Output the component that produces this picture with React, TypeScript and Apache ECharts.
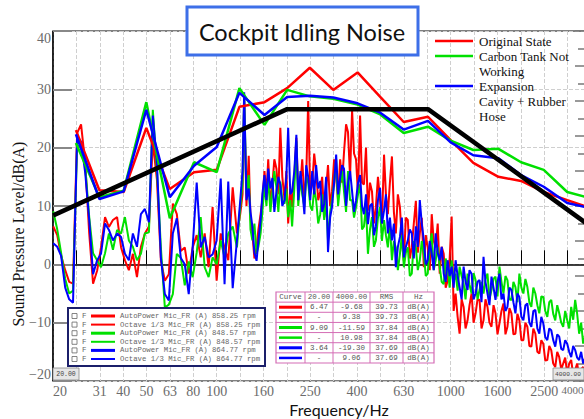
import React, { useEffect, useRef } from "react";
import * as echarts from "echarts";

// Narrowband (AutoPower) spectra: frequency grid (Hz) and levels dB(A)
const nbFreqs = [
  20, 20.8, 21.6, 22.5, 23.4, 24.3, 25.3, 26.3, 27.4, 28.5,
  29.6, 30.8, 32, 33.3, 34.6, 36, 37.5, 39, 40.5, 42.1,
  43.8, 45.6, 47.4, 49.3, 51.3, 53.3, 55.5, 57.7, 60, 62.4,
  64.9, 67.5, 70.2, 73, 75.9, 78.9, 82.1, 85.4, 88.8, 92.3,
  96, 99.9, 104, 108, 112, 117, 122, 126, 131, 137,
  142, 148, 154, 160, 166, 173, 180, 187, 195, 202,
  210, 219, 228, 237, 246, 256, 266, 277, 288, 299,
  311, 324, 337, 350, 364, 379, 394, 410, 426, 443,
  461, 479, 499, 519, 539, 561, 583, 607, 631, 656,
  682, 710, 738, 768, 798, 830, 863, 898, 934, 971,
  1010, 1050, 1092, 1136, 1181, 1229, 1278, 1329, 1382, 1437,
  1495, 1555, 1617, 1682, 1749, 1819, 1892, 1967, 2046, 2128,
  2213, 2302, 2394, 2489, 2589, 2692, 2800, 2912, 3028, 3150,
  3276, 3407, 3543, 3685, 3832, 3985,
];
const nbRed = [
  6.5, 5, 1.5, -1, -3, -3.3, 22.5, 24, 17.3, 5.3,
  -3.3, -1.1, 2.9, 8.1, 6.4, 7.6, 8.1, 2.9, 0.7, -1,
  1.8, -2.2, 3, 5.3, 6.5, 21, 14.5, 0.7, -2.8, -1.7,
  10.4, 8.6, 2.3, 2.9, -1.6, 2.9, 5, 1.2, 5.3, -0.5,
  9.8, -2.8, 5.3, 2.9, 0.7, 13.2, 5.3, 8.6, 28.4, 18.6,
  5.3, 2.9, 8.6, 16, 18, 13.7, 16.4, 23.4, 11, 7,
  9.8, 21.7, 13.7, 11.2, 28, 13.7, 16, 12.5, 8.1, 17,
  12.5, 14.8, 18, 19.2, 22.7, 26.4, 18, 25.5, 13.7, 9.2,
  12.5, 9.8, 11, 18.8, 8.6, 18.5, 5.3, 9.8, 0.6, 7.6,
  2.9, 10.9, 5.3, -0.5, 2.9, 8.6, 2.9, -1.6, 1.8, -2.8,
  8.2, -5, -11.9, -7.3, -9.6, -5, -8.4, -6.1, -9.6, -7.3,
  -10.7, -8.4, -10.1, -6.7, -10.7, -8.4, -11.9, -9.6, -13, -10.7,
  -14.1, -11.9, -15.3, -13.6, -16.4, -14.7, -17.6, -15.9, -17, -18.7,
  -16.4, -18.1, -19.3, -17.6, -19, -9.7,
];
const nbGreen = [
  9.1, 6, 2, -2.5, -5, -4.5, 20.5, 20, 16.8, 8.1,
  1.9, 0.7, -0.5, 1.9, 5.3, 2.5, 5.9, 5.3, 8.1, 4.1,
  3, 0.7, 1.8, 5.3, 5.5, 26.5, 16.2, 2.9, -7.4, -6.9,
  -5.1, 1.8, 1.1, -3.6, 0.5, -2.2, 2, 8.1, -0.5, -2.2,
  1.2, 0, 4.1, 1.2, 5.3, 6.5, 2.9, 9.8, 29, 15.3,
  4.1, 1.8, 5.3, 13.7, 15.3, 12.5, 13.1, 14.2, 10.4, 8.1,
  6.5, 21.1, 14.8, 9.8, 14, 9.2, 11, 8.6, 7.6, 4.1,
  11, 18, 13.7, 12.5, 16, 11, 9.8, 13.7, 6.5, 1.8,
  8.1, 4.1, 9.8, 7.6, 2.9, 0.7, 2.9, 1.8, -0.5, 2.9,
  -1.6, 2.9, 0.7, 1.8, -1.6, 5.3, 0.7, -0.5, -3.4, -0.5,
  0.7, -1.6, -0.4, -3.3, -1.6, -5, -2.7, -4.4, -5, -1.6,
  -4.4, -2.1, -0.4, -5, -2.7, -6.1, -3.9, -1.6, -5, -3.9,
  -7.3, -5, -8.4, -5.6, -9, -6.1, -9.6, -8.4, -10.7, -9.6,
  -7.3, -6.1, -11.9, -13.6, -12.4, -11.6,
];
const nbBlue = [
  3.6, 3, 1.5, -4, -6, -6.6, 22, 21, 15.7, 7.6,
  -1.7, 0.7, 1.8, 7, 5.9, 4.1, 5.3, 4.7, 1.8, 0.7,
  5.3, 3, 8.6, 9.5, 7.2, 25.5, 17.3, 1.2, -5.1, -6.2,
  5.3, 7.9, 1.1, 0, -5.1, 2.9, 14, 2.9, 4.7, 1.2,
  1.7, 4.1, 14.7, -3.4, 14.2, -4.1, 4.1, 10.9, 29.5, 13,
  6.5, 0.6, 7.6, 15.3, 16.4, 14.8, 12.5, 13.7, 11, 23.4,
  12.5, 22.2, 16, 8.6, 15, 16, 17, 14.3, 10.4, 2.1,
  9.8, 18.8, 14.8, 16.4, 13.7, 12.5, 11, 15.3, 8.6, 6.9,
  10.4, 6.5, 13.1, 9.2, 5.3, 4.1, -0.5, 4.7, 1.2, 4.1,
  5.3, 6.5, 11, 4.1, 0.7, 1.8, 5.3, 0.7, -1.6, 0.7,
  -0.4, 0.7, -3.9, -0.4, -4.4, -1.6, -5, -2.7, 1.3, -5,
  -2.1, -6.1, -1.6, -5, -7.3, -4.4, -8.4, -5.6, -9.6, -6.7,
  -10.7, -7.8, -11.9, -10.1, -13, -11.3, -14.1, -12.4, -14.7, -13.6,
  -15.9, -14.7, -16.4, -17, -16.4, -19.3,
];

// extra narrowband lines between the grid above (denser noise from 129 Hz up)
const nbFreqsMid = [
  128.9, 134, 139.4, 144.9, 150.7, 156.7, 163.1, 169.6, 176.3, 183.4,
  190.7, 198.4, 206.3, 214.6, 223.1, 232, 241.3, 251, 261, 271.5,
  282.3, 293.6, 305.3, 317.6, 330.2, 343.5, 357.2, 371.5, 386.3, 401.8,
  417.9, 434.6, 452, 470, 488.9, 508.4, 528.8, 549.9, 571.9, 594.7,
  618.5, 643.3, 669, 695.8, 723.7, 752.6, 782.7, 814, 846.5, 880.4,
  915.6, 952.2, 990.3, 1030, 1071, 1114, 1158, 1204, 1253, 1303,
  1355, 1409, 1465, 1525, 1586, 1649, 1715, 1784, 1855, 1929,
  2006, 2087, 2170, 2257, 2348, 2441, 2538, 2640, 2745, 2855,
  2970, 3088, 3212, 3341, 3474, 3613, 3758, 3908,
];
const nbRedMid = [
  12, 10, 8, 1, 6, 11, 12, 10, 18, 12,
  15, 16, 13, 15, 12, 18, 15, 12, 19, 11,
  15, 13, 10, 18, 11, 14, 24, 15, 19, 12,
  14, 20, 14, 7, 15, 7, 12, 14, 9, 12,
  4, 8, 1, 7, 2, 8, 5, -1, 4, 7,
  3, -4, 1, -8, -9, -6, -11, -7, -10, -6,
  -11, -6, -10, -7, -12, -8, -12, -7.5, -12, -8.5,
  -13, -10, -14, -11, -15, -13, -16.5, -14, -17, -15,
  -18, -16, -17, -19, -17, -18, -19.5, -18,
];
const nbGreenMid = [
  14, 12, 6, 7, 3, 9, 10, 9, 16, 9,
  11, 13, 11, 13, 10, 12, 15, 10, 13, 7,
  12, 11, 9, 14, 10, 16, 9, 11, 8, 12,
  6, 10, 6, 3, 8, 4, 5, 7, 4, -1,
  5, 2, -2, 4, -1, 4, -2, 3, -1, 3,
  -3, 1, -4, -3, -4.5, -2, -6, -3.5, -1.5, -6,
  -3, -2.5, -6, -2.5, -5.5, -3, -2, -6, -3, -6.5,
  -4, -2.5, -6.5, -4, -7, -5.5, -8, -6.5, -8.5, -7,
  -10, -8, -11, -9.5, -8.5, -10, -12, -11,
];
const nbBlueMid = [
  16, 11, 9, 2, 4, 12, 11, 13, 9, 15,
  10, 15, 12, 16, 11, 13, 17, 11, 12, 13,
  9, 15, 8, 14, 12, 17, 10, 16, 9, 14,
  10, 12, 10, 5, 11, 7, 12, 8, 7, 3,
  8, 3, 6, 1, 3, 7, 0, 4, -1, 2,
  3, -3, -2, -4, -2, -6, -3, -1, -6, -3,
  -6.5, -3, -7, -4, -3, -6, -8, -4, -6.5, -5,
  -9, -7, -10, -8, -11, -9, -12.5, -11, -13, -12,
  -14.5, -13, -15, -14, -16, -15, -16, -18,
];

// 1/3 octave spectra
const octBands = [25, 31.5, 40, 50, 63, 80, 100, 125, 160, 200, 250, 315, 400, 500, 630, 800, 1000, 1250, 1600, 2000, 2500, 3150, 4000];
const octRed = [23.0, 12.7, 12.4, 23.4, 12.9, 15.8, 16.2, 27.0, 27.8, 30.2, 33.7, 29.9, 32.9, 28.7, 24.4, 25.3, 21.3, 17.4, 15.0, 14.3, 12.4, 11.0, 9.6];
const octGreen = [20.8, 11.5, 12.6, 27.8, 7.9, 17.5, 15.8, 30.2, 23.9, 29.9, 28.8, 28.4, 27.4, 25.7, 22.5, 23.6, 21.2, 19.6, 19.8, 17.5, 16.2, 12.4, 11.3];
const octBlue = [22.3, 11.2, 12.5, 26.5, 11.5, 16.9, 20.1, 29.4, 25.6, 28.7, 28.9, 28.6, 27.6, 26.0, 23.1, 24.6, 20.9, 18.7, 18.2, 15.3, 13.3, 10.5, 9.6];

// target line (black)
const targetFreqs = [20, 200, 800, 4000];
const targetLevels = [8.4, 26.6, 26.6, 6.4];

// axis tick labels (Hz)
const xTickHz = [20, 31, 40, 50, 63, 80, 100, 160, 250, 400, 630, 1000, 1600, 2500, 4000];

const titleText = "Cockpit Idling Noise";
const legendItems = [
  { color: "#ff0000", text: "Original State" },
  { color: "#00e000", text: "Carbon Tank Not\nWorking" },
  { color: "#0000ff", text: "Expansion\nCavity + Rubber\nHose" },
];
const boxLegendRows = [
  { color: "#ff0000", thick: true, text: "AutoPower Mic_FR (A) 858.25 rpm" },
  { color: "#ff0000", thick: false, text: "Octave 1/3 Mic_FR (A) 858.25 rpm" },
  { color: "#00e000", thick: true, text: "AutoPower Mic_FR (A) 848.57 rpm" },
  { color: "#00e000", thick: false, text: "Octave 1/3 Mic_FR (A) 848.57 rpm" },
  { color: "#0000ff", thick: true, text: "AutoPower Mic_FR (A) 864.77 rpm" },
  { color: "#0000ff", thick: false, text: "Octave 1/3 Mic_FR (A) 864.77 rpm" },
];
const tableHeader = ["Curve", "20.00", "4000.00", "RMS", "Hz"];
const tableColors = ["#ff0000", "#ff0000", "#00e000", "#00e000", "#0000ff", "#0000ff"];
const tableRows = [
  ["6.47", "-9.68", "39.73", "dB(A)"],
  ["-", "9.38", "39.73", "dB(A)"],
  ["9.09", "-11.59", "37.84", "dB(A)"],
  ["-", "10.98", "37.84", "dB(A)"],
  ["3.64", "-19.30", "37.69", "dB(A)"],
  ["-", "9.06", "37.69", "dB(A)"],
];

const bi = (f: number) => 10 * Math.log10(f);

function merged(fa: number[], va: number[], fb: number[], vb: number[]) {
  const pts = fa.map((f, i) => [f, va[i]]).concat(fb.map((f, i) => [f, vb[i]]));
  pts.sort((a, b) => a[0] - b[0]);
  return pts.map(([f, v]) => [bi(f), v]);
}

function txt(x: number, y: number, text: string, opts: any = {}) {
  return {
    type: "text",
    x,
    y,
    z: 100,
    rotation: opts.rotation || 0,
    style: {
      text,
      fill: opts.fill || "#111",
      fontSize: opts.fontSize || 12,
      fontFamily: opts.fontFamily || "Liberation Serif",
      align: opts.align || "left",
      textAlign: opts.align || "left",
      verticalAlign: opts.verticalAlign || "middle",
      textVerticalAlign: opts.verticalAlign || "middle",
      lineHeight: opts.lineHeight,
    },
  };
}
function ln(x1: number, y1: number, x2: number, y2: number, stroke: string, lineWidth: number) {
  return { type: "line", z: 101, shape: { x1, y1, x2, y2 }, style: { stroke, lineWidth } };
}

export default function App() {
  const ref = useRef<HTMLDivElement>(null);
  useEffect(() => {
    if (!ref.current) return;
    const chart = echarts.init(ref.current, undefined, { renderer: "svg" });

    const graphics: any[] = [];
    // title box
    graphics.push({ type: "rect", z: 100, shape: { x: 187, y: 7, width: 231, height: 48 }, style: { fill: "#fff", stroke: "#3d6fe8", lineWidth: 3 } });
    graphics.push(txt(302, 32, titleText, { fontSize: 23.5, fontFamily: "Lato", align: "center", fill: "#111" }));
    // top-right legend
    const legY = [41, 56, 86];
    legendItems.forEach((it, i) => {
      graphics.push(ln(435, legY[i], 473, legY[i], it.color, 2.5));
      graphics.push(txt(479, legY[i] - 7.5, it.text, { fontSize: 13, verticalAlign: "top", lineHeight: 15, fill: "#111" }));
    });
    // lower-left legend box
    graphics.push({ type: "rect", z: 100, shape: { x: 68, y: 308, width: 197, height: 58 }, style: { fill: "#fff", stroke: "#1b1f6a", lineWidth: 2 } });
    boxLegendRows.forEach((r, i) => {
      const y = 316 + 8.6 * i;
      graphics.push({ type: "rect", z: 101, shape: { x: 72, y: y - 2.5, width: 5, height: 5 }, style: { fill: "#fff", stroke: "#666", lineWidth: 0.8 } });
      graphics.push(txt(82, y, "F", { fontSize: 7.5, fontFamily: "Liberation Mono", fill: "#666" }));
      graphics.push(ln(91, y, 115, y, r.color, r.thick ? 3 : 2));
      graphics.push(txt(120, y, r.text, { fontSize: 7.3, fontFamily: "Liberation Mono", fill: "#666" }));
    });
    // table
    const cols = [276, 305, 333, 370, 403, 434];
    const rowH = 71 / 7;
    graphics.push({ type: "rect", z: 100, shape: { x: 276, y: 292, width: 158, height: 71 }, style: { fill: "#fff", stroke: "#d46cb5", lineWidth: 1.2 } });
    for (let i = 1; i < 7; i++) graphics.push(ln(276, 292 + rowH * i, 434, 292 + rowH * i, "#d46cb5", 1));
    for (let j = 1; j < 5; j++) graphics.push(ln(cols[j], 292, cols[j], 363, "#d46cb5", 1));
    tableHeader.forEach((h, j) => {
      graphics.push(txt((cols[j] + cols[j + 1]) / 2, 292 + rowH / 2, h, { fontSize: 7.5, fontFamily: "Liberation Mono", align: "center", fill: "#555" }));
    });
    tableRows.forEach((row, i) => {
      const y = 292 + rowH * (i + 1) + rowH / 2;
      graphics.push(ln(279, y, 302, y, tableColors[i], i % 2 === 0 ? 3 : 2.5));
      row.forEach((c, j) => {
        graphics.push(txt((cols[j + 1] + cols[j + 2]) / 2, y, c, { fontSize: 7.5, fontFamily: "Liberation Mono", align: "center", fill: "#555" }));
      });
    });
    // cursor boxes
    graphics.push({ type: "rect", z: 100, shape: { x: 53, y: 368, width: 26, height: 12 }, style: { fill: "#e6e6e6", stroke: "#888", lineWidth: 0.8 } });
    graphics.push(txt(66, 374, "20.00", { fontSize: 6.5, fontFamily: "Liberation Mono", align: "center", fill: "#444" }));
    graphics.push({ type: "rect", z: 100, shape: { x: 553, y: 368, width: 31, height: 12 }, style: { fill: "#e6e6e6", stroke: "#888", lineWidth: 0.8 } });
    graphics.push(txt(555, 374, "4000.00", { fontSize: 6.2, fontFamily: "Liberation Mono", fill: "#444" }));
    // axis titles
    graphics.push(txt(18, 234, "Sound Pressure Level/dB(A)", { fontSize: 16, align: "center", rotation: Math.PI / 2, fill: "#111" }));
    graphics.push(txt(339, 409, "Frequency/Hz", { fontSize: 16, fontFamily: "Lato", align: "center", fill: "#111" }));

    const mkLine = (data: number[][], color: string, width: number, z: number) => ({
      type: "line",
      data,
      showSymbol: false,
      symbol: "none",
      silent: true,
      z,
      lineStyle: { color, width },
    });

    const labelFont = { color: "#6b6b6b", fontFamily: "Liberation Serif", fontSize: 14 };

    chart.setOption({
      animation: false,
      grid: { left: 53, top: 31, width: 538, height: 350, show: true, borderColor: "#000", borderWidth: 1, backgroundColor: "transparent", containLabel: false, outerBoundsMode: "none" },
      xAxis: {
        type: "value",
        min: 13,
        max: 36,
        interval: 1,
        axisLine: { show: true, lineStyle: { color: "#000", width: 1.5 } },
        axisTick: { show: true, inside: true, length: 14, lineStyle: { color: "#000", width: 1 } },
        axisLabel: {
          formatter: (v: number) => {
            const hit = xTickHz.find((h) => Math.round(bi(h)) === Math.round(v));
            if (hit === undefined) return "";
            return Math.round(v) === 36 ? "{r|" + hit + "}" : String(hit);
          },
          ...labelFont,
          rich: { r: { ...labelFont, fontSize: 11, padding: [0, 7.5, 0, 0] } },
          margin: 3,
          showMinLabel: true,
          showMaxLabel: true,
          alignMinLabel: "left",
          alignMaxLabel: "right",
          hideOverlap: false,
        },
        splitLine: { show: true, lineStyle: { color: "#cfcfcf", type: "dashed", width: 1 } },
      },
      yAxis: [
        {
          type: "value",
          min: -20,
          max: 40,
          interval: 10,
          position: "left",
          axisLine: { show: true, lineStyle: { color: "#000", width: 1.5 } },
          axisTick: { show: true, inside: true, length: 19, lineStyle: { color: "#888", width: 2 } },
          axisLabel: {
            formatter: (v: number) => (v < 0 ? "\u2212" + Math.abs(v) : String(v)),
            ...labelFont,
            margin: 2,
            verticalAlignMaxLabel: "top",
            verticalAlignMinLabel: "bottom",
          },
          splitLine: { show: true, lineStyle: { color: "#cfcfcf", type: "dashed", width: 1 } },
        },
        {
          type: "value",
          min: 0,
          max: 10,
          interval: 1,
          position: "right",
          axisLine: { show: false },
          axisTick: { show: true, inside: true, length: 16, lineStyle: { color: "#777", width: 1.5 } },
          minorTick: { show: true, splitNumber: 2, length: 13, lineStyle: { color: "#777", width: 1.5 } },
          axisLabel: { show: false },
          splitLine: { show: false },
        },
      ],
      series: [
        mkLine(merged(nbFreqs, nbRed, nbFreqsMid, nbRedMid), "#ff0000", 2, 2),
        mkLine(merged(nbFreqs, nbGreen, nbFreqsMid, nbGreenMid), "#00e000", 2, 2),
        mkLine(merged(nbFreqs, nbBlue, nbFreqsMid, nbBlueMid), "#0000ff", 2, 2),
        mkLine(octBands.map((f, i) => [bi(f), octRed[i]]), "#ff0000", 2.5, 3),
        mkLine(octBands.map((f, i) => [bi(f), octGreen[i]]), "#00e000", 2.5, 3),
        mkLine(octBands.map((f, i) => [bi(f), octBlue[i]]), "#0000ff", 2.5, 3),
        mkLine(targetFreqs.map((f, i) => [bi(f), targetLevels[i]]), "#000000", 4.5, 4),
      ],
      graphic: { elements: graphics },
    });
    return () => chart.dispose();
  }, []);
  return <div ref={ref} style={{ position: "fixed", left: 0, top: 0, width: 584, height: 419, background: "#fff" }} />;
}
